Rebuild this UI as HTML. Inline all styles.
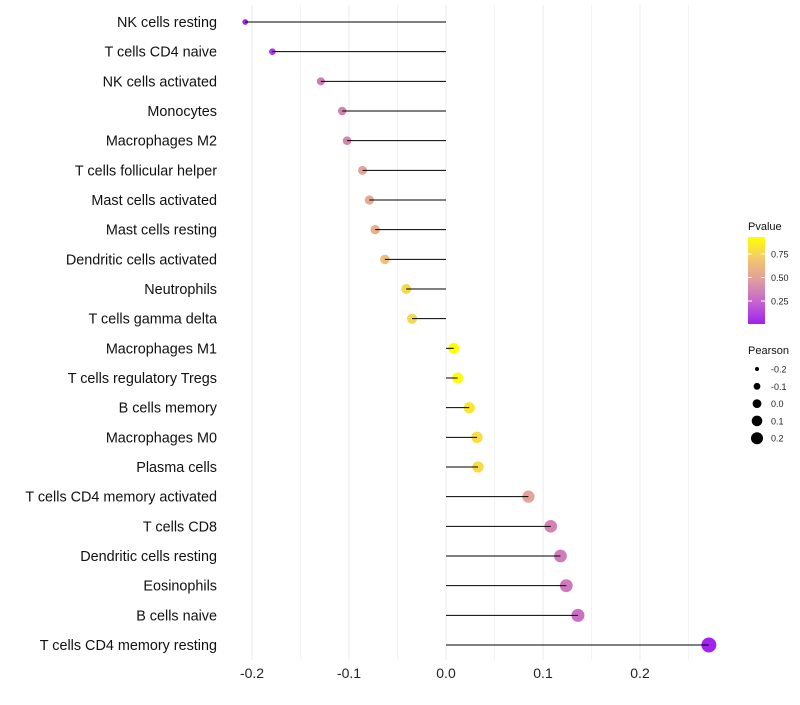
<!DOCTYPE html>
<html><head><meta charset="utf-8"><style>
body{margin:0;background:#fff;font-family:"Liberation Sans",sans-serif;}
</style></head><body>
<svg id="chart" width="800" height="700" xmlns="http://www.w3.org/2000/svg"></svg>
<script>
const categories=["NK cells resting","T cells CD4 naive","NK cells activated","Monocytes","Macrophages M2","T cells follicular helper","Mast cells activated","Mast cells resting","Dendritic cells activated","Neutrophils","T cells gamma delta","Macrophages M1","T cells regulatory  Tregs ","B cells memory","Macrophages M0","Plasma cells","T cells CD4 memory activated","T cells CD8","Dendritic cells resting","Eosinophils","B cells naive","T cells CD4 memory resting"];
const pearson=[-0.207,-0.179,-0.129,-0.107,-0.102,-0.086,-0.079,-0.073,-0.063,-0.041,-0.035,0.008,0.012,0.024,0.032,0.033,0.085,0.108,0.118,0.124,0.136,0.271];
const pvalues=[0.02,0.08,0.32,0.35,0.37,0.5,0.53,0.56,0.65,0.76,0.77,0.93,0.92,0.83,0.78,0.78,0.5,0.36,0.33,0.32,0.28,0.01];
const xTicks=[-0.2,-0.1,0,0.1,0.2];
const xTickLabels=["-0.2","-0.1","0.0","0.1","0.2"];
const colorTicks=[0.25,0.5,0.75];
const sizeLegend=[-0.2,-0.1,0,0.1,0.2];

const svg=document.getElementById('chart');
const NS="http://www.w3.org/2000/svg";
function mk(t,a,p){const e=document.createElementNS(NS,t);for(const k in a)e.setAttribute(k,a[k]);(p||svg).appendChild(e);return e;}
const x=v=>446+v*970;
const y=i=>22+i*(623/21);
const r=v=>Math.sqrt(Math.max(4,28.9+100*v));
const stops=[[0,[160,32,240]],[0.25,[196,100,206]],[0.5,[224,156,160]],[0.75,[242,200,110]],[1,[255,255,0]]];
function col(p){let t=Math.max(0,Math.min(1,p/0.93));for(let i=1;i<stops.length;i++){if(t<=stops[i][0]){const a=stops[i-1],b=stops[i],f=(t-a[0])/(b[0]-a[0]);const c=a[1].map((v,j)=>Math.round(v+(b[1][j]-v)*f));return `rgb(${c})`;}}return 'rgb(255,255,0)';}
// grid
for(let k=-4;k<=5;k++){const v=k*0.05;const g=mk('line',{x1:x(v),x2:x(v),y1:5,y2:660,stroke:'#ebebeb','stroke-width':k%2===0?1:0.6});
}
xTicks.forEach((v,i)=>{const t=mk('text',{x:x(v),y:678,'text-anchor':'middle','font-size':14,fill:'#222'});t.textContent=xTickLabels[i];
});
categories.forEach((c,i)=>{
const l=mk('text',{x:217,y:y(i)+5,'text-anchor':'end','font-size':14.4,fill:'#111'});l.textContent=c;

const d=mk('circle',{cx:x(pearson[i]),cy:y(i),r:r(pearson[i]),fill:col(pvalues[i])});

const s=mk('line',{x1:x(0),x2:x(pearson[i]),y1:y(i),y2:y(i),stroke:'#000','stroke-width':1});

});
// color legend
const defs=mk('defs',{});const lg=mk('linearGradient',{id:'pg',x1:0,y1:1,x2:0,y2:0},defs);
stops.forEach(s=>mk('stop',{offset:s[0],'stop-color':`rgb(${s[1]})`},lg));
const tt=mk('text',{x:748,y:230,'font-size':11,fill:'#111'});tt.textContent='Pvalue';

const bar=mk('rect',{x:748,y:237,width:17,height:87,fill:'url(#pg)'});

const cy=p=>324.5-p*94;
colorTicks.forEach(p=>{mk('line',{x1:748,x2:752,y1:cy(p),y2:cy(p),stroke:'#fff'});mk('line',{x1:761,x2:765,y1:cy(p),y2:cy(p),stroke:'#fff'});
const t=mk('text',{x:771,y:cy(p)+3.5,'font-size':9,fill:'#222'});t.textContent=p.toFixed(2);
});
const st=mk('text',{x:748,y:354,'font-size':11,fill:'#111'});st.textContent='Pearson';

const legR=[2,3.4,4.4,5.3,6];
sizeLegend.forEach((v,i)=>{const yy=369+i*17.3;
const c=mk('circle',{cx:757,cy:yy,r:legR[i],fill:'#000'});

const t=mk('text',{x:771,y:yy+3.5,'font-size':9,fill:'#222'});t.textContent=v.toFixed(1);
});
</script>
</body></html>
